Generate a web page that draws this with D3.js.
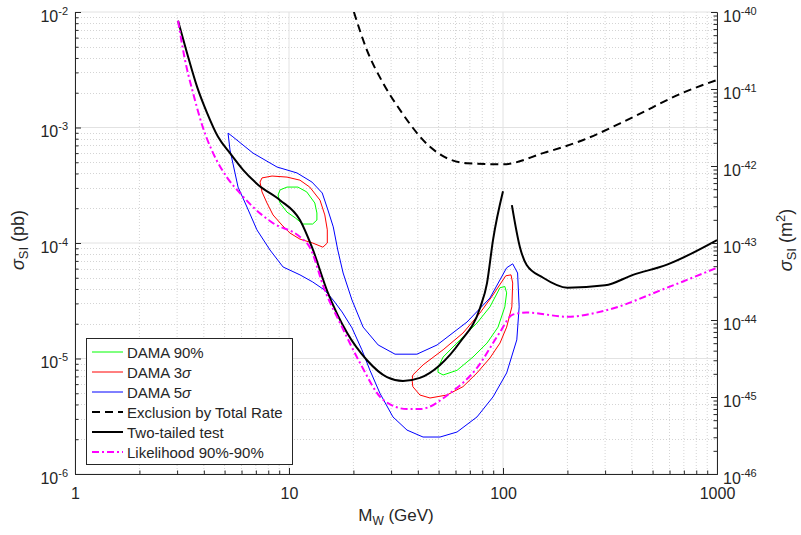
<!DOCTYPE html>
<html><head><meta charset="utf-8">
<script src="https://cdn.jsdelivr.net/npm/d3@7"></script>
<style>
body{margin:0;background:#fff}
svg{display:block}
text{font-family:"Liberation Sans",Arial,Helvetica,sans-serif;fill:#262626}
</style>
</head><body>
<svg id="chart" width="801" height="535"></svg>
<script>
// ---------- data (mass in GeV, sigma in pb) ----------
const massTicks = [1, 10, 100, 1000];
const massTickLabels = ["1", "10", "100", "1000"];
const sigmaExps = [-6, -5, -4, -3, -2];
const sigmaM2Exps = [-46, -45, -44, -43, -42, -41, -40];

const twoTailedLow = [[3.03,8.4e-3],[3.34,4.4e-3],[3.72,2.25e-3],[4.14,1.34e-3],[4.66,8.3e-4],[5.3,6.0e-4],[6.1,4.3e-4],[7.16,3.2e-4],[9.08,2.35e-4],[11.25,1.58e-4],[12.8,9.2e-5],[15.2,3.7e-5],[18.7,1.66e-5],[23.1,9.7e-6],[28.7,6.9e-6],[34.1,6.4e-6],[40.9,6.8e-6],[50.8,8.8e-6],[63,1.39e-5],[78.1,2.74e-5],[84.2,4.5e-5],[89.8,1.06e-4],[100,2.8e-4]];
const twoTailedHigh = [[110,2.13e-4],[120,9.2e-5],[129,6.45e-5],[154,5.0e-5],[200,4.1e-5],[300,4.3e-5],[405,5.3e-5],[584,6.5e-5],[1000,1.06e-4]];
const likelihood = [[3.03,8.4e-3],[3.27,3.8e-3],[3.56,2.0e-3],[3.96,1.0e-3],[4.42,6.0e-4],[5.13,3.7e-4],[5.9,2.7e-4],[6.79,2.05e-4],[8.4,1.49e-4],[11.25,1.13e-4],[12.5,9.2e-5],[14.7,3.9e-5],[17.7,1.87e-5],[21.5,9.1e-6],[27.5,4.4e-6],[35.6,3.65e-6],[40.9,3.65e-6],[56.5,5.0e-6],[75.6,8.3e-6],[96.8,1.69e-5],[111,2.4e-5],[129,2.5e-5],[200,2.3e-5],[300,2.6e-5],[584,4.1e-5],[1000,6.1e-5]];
const totalRate = [[20.1,1.0e-2],[23.1,4.7e-3],[27.5,2.43e-3],[33,1.42e-3],[45.6,6.8e-4],[67.9,4.9e-4],[100,4.8e-4],[154,6.0e-4],[237,7.8e-4],[405,1.23e-3],[693,2.0e-3],[1000,2.58e-3]];

const dama5sigma = [[5.19,8.95e-4],[5.47,8.3e-4],[6.79,6.0e-4],[8.79,4.55e-4],[10.9,4.04e-4],[12.8,3.37e-4],[14.3,2.71e-4],[15.2,1.93e-4],[16.1,1.38e-4],[16.9,8.7e-5],[17.9,5.5e-5],[19.7,3.2e-5],[22.2,1.87e-5],[26.1,1.31e-5],[31.3,1.09e-5],[39.6,1.09e-5],[49.2,1.31e-5],[67.9,2.07e-5],[86.9,3.34e-5],[104,6.1e-5],[111,6.6e-5],[117,5.5e-5],[119,2.8e-5],[116,1.45e-5],[104,7.5e-6],[89.8,4.65e-6],[75.6,3.12e-6],[61,2.31e-6],[50.8,2.09e-6],[42.3,2.09e-6],[35.6,2.4e-6],[30.6,3.12e-6],[26.6,5.0e-6],[23.9,7.9e-6],[21.9,1.19e-5],[19.7,1.84e-5],[17.7,2.53e-5],[16.1,3.2e-5],[14.7,3.9e-5],[12.9,4.6e-5],[11.25,5.3e-5],[9.38,6.2e-5],[8.15,8.7e-5],[7.08,1.3e-4],[6.36,2.05e-4],[5.78,3.05e-4],[5.3,6.4e-4]];
const dama3sigmaLow = [[7.48,3.66e-4],[8.33,3.8e-4],[9.79,3.72e-4],[11.25,3.5e-4],[12.5,3.05e-4],[13.96,2.35e-4],[14.7,1.75e-4],[15.1,1.3e-4],[15.1,1.0e-4],[14.4,9.2e-5],[12.9,1.0e-4],[11.25,1.08e-4],[10.1,1.22e-4],[9.27,1.43e-4],[8.42,1.75e-4],[7.89,2.22e-4],[7.48,2.77e-4],[7.32,3.37e-4]];
const dama3sigmaHigh = [[37.9,7.2e-6],[42.3,8.8e-6],[52.5,1.19e-5],[65,1.66e-5],[78.1,2.48e-5],[89.8,3.55e-5],[103,5.2e-5],[109,5.3e-5],[111,4.5e-5],[110,2.8e-5],[104,1.87e-5],[96.8,1.36e-5],[86.9,1.01e-5],[75.6,7.5e-6],[65,5.7e-6],[54.7,4.83e-6],[45.6,4.55e-6],[40.9,4.83e-6],[37.9,5.7e-6],[37.6,6.5e-6]];
const dama90Low = [[9.08,2.88e-4],[9.79,3.05e-4],[11.0,3.05e-4],[12.1,2.77e-4],[13.2,2.22e-4],[13.5,1.82e-4],[13.5,1.58e-4],[12.9,1.46e-4],[11.6,1.46e-4],[10.7,1.65e-4],[9.79,1.85e-4],[9.08,2.22e-4],[8.89,2.6e-4]];
const dama90High = [[49.7,8.3e-6],[52.5,1.03e-5],[63,1.45e-5],[75.6,2.03e-5],[86.9,2.8e-5],[96.8,4.1e-5],[102,4.2e-5],[104,3.7e-5],[102,2.8e-5],[94.8,1.87e-5],[84.2,1.36e-5],[72.4,1.03e-5],[61,7.9e-6],[52.5,7.2e-6],[49.7,7.6e-6]];

const legendLabels = ["DAMA 90%", "DAMA 3σ", "DAMA 5σ", "Exclusion by Total Rate", "Two-tailed test", "Likelihood 90%-90%"];

// ---------- layout ----------
const L = 75, R = 717, T = 12, B = 474;
const svg = d3.select("#chart");
svg.append("rect").attr("width", 801).attr("height", 535).attr("fill", "#fff");

const x = d3.scaleLog().domain([1, 1000]).range([L, R]);
const y = d3.scaleLog().domain([1e-6, 1e-2]).range([B, T]);
const yR = d3.scaleLog().domain([1e-46, 1e-40]).range([B, T]);

function minors(lo, hi) {
  const out = [];
  for (let e = lo; e < hi; e++) for (let k = 2; k <= 9; k++) out.push(k * Math.pow(10, e));
  return out;
}
const xMinor = minors(0, 3);
const yMinor = minors(-6, -2);
const rMinor = minors(-46, -40);
const yMajor = sigmaExps.map(e => Math.pow(10, e));
const rMajor = sigmaM2Exps.map(e => Math.pow(10, e));

// grid
const grid = svg.append("g");
grid.selectAll(".gxm").data(xMinor).join("line")
  .attr("x1", d => x(d)).attr("x2", d => x(d)).attr("y1", T).attr("y2", B)
  .attr("stroke", "#d4d4d4").attr("stroke-width", 1).attr("stroke-dasharray", "1,2");
grid.selectAll(".gym").data(yMinor).join("line")
  .attr("y1", d => Math.round(y(d)) + 0.5).attr("y2", d => Math.round(y(d)) + 0.5).attr("x1", L).attr("x2", R)
  .attr("stroke", "#d4d4d4").attr("stroke-width", 1).attr("stroke-dasharray", "1,2");
grid.selectAll(".gx").data(massTicks).join("line")
  .attr("x1", d => x(d)).attr("x2", d => x(d)).attr("y1", T).attr("y2", B)
  .attr("stroke", "#e2e2e2").attr("stroke-width", 1);
grid.selectAll(".gy").data(yMajor).join("line")
  .attr("y1", d => y(d)).attr("y2", d => y(d)).attr("x1", L).attr("x2", R)
  .attr("stroke", "#e2e2e2").attr("stroke-width", 1);

// curves
svg.append("clipPath").attr("id", "clip").append("rect")
  .attr("x", L).attr("y", T).attr("width", R - L).attr("height", B - T);
const plot = svg.append("g").attr("clip-path", "url(#clip)");
const closed = d3.line().x(d => x(d[0])).y(d => y(d[1])).curve(d3.curveLinearClosed);
const smooth = d3.line().x(d => x(d[0])).y(d => y(d[1])).curve(d3.curveMonotoneX);

function contour(data, color) {
  plot.append("path").attr("d", closed(data)).attr("fill", "none")
    .attr("stroke", color).attr("stroke-width", 1).attr("stroke-linejoin", "round");
}
contour(dama90Low, "#00ff00");
contour(dama90High, "#00ff00");
contour(dama3sigmaLow, "#ff0000");
contour(dama3sigmaHigh, "#ff0000");
contour(dama5sigma, "#0000ff");

plot.append("path").attr("d", smooth(totalRate)).attr("fill", "none")
  .attr("stroke", "#000").attr("stroke-width", 2).attr("stroke-dasharray", "8,5");
plot.append("path").attr("d", smooth(twoTailedLow)).attr("fill", "none")
  .attr("stroke", "#000").attr("stroke-width", 2).attr("stroke-linejoin", "round");
plot.append("path").attr("d", smooth(twoTailedHigh)).attr("fill", "none")
  .attr("stroke", "#000").attr("stroke-width", 2).attr("stroke-linejoin", "round");
plot.append("path").attr("d", smooth(likelihood)).attr("fill", "none")
  .attr("stroke", "#ff00ff").attr("stroke-width", 2).attr("stroke-dasharray", "7,3,2,3");

// axes
const axCol = "#262626";
function styleAxis(g) {
  g.select(".domain").attr("stroke", axCol).attr("stroke-width", 1);
  g.selectAll(".tick line").attr("stroke", axCol);
}
function powLabel(sel, anchor) {
  sel.selectAll(".tick text").each(function(d) {
    const t = d3.select(this);
    const e = Math.round(Math.log10(d));
    t.text(null).attr("dy", null).attr("text-anchor", anchor).attr("font-size", 16).attr("fill", axCol);
    t.append("tspan").text("10");
    t.append("tspan").attr("dy", -7).attr("font-size", 11).text(String(e));
  });
}

const gL = svg.append("g").attr("transform", `translate(${L},0)`)
  .call(d3.axisLeft(y).tickValues(yMajor).tickSizeInner(-6).tickSizeOuter(0).tickPadding(7));
styleAxis(gL);
powLabel(gL, "end");
gL.selectAll(".tick text").attr("y", 9);
const gLm = svg.append("g").attr("transform", `translate(${L},0)`)
  .call(d3.axisLeft(y).tickValues(yMinor).tickSizeInner(-3.5).tickSizeOuter(0).tickFormat(""));
styleAxis(gLm);

const gR = svg.append("g").attr("transform", `translate(${R},0)`)
  .call(d3.axisRight(yR).tickValues(rMajor).tickSizeInner(-6).tickSizeOuter(0).tickPadding(6));
styleAxis(gR);
powLabel(gR, "start");
gR.selectAll(".tick text").attr("y", 9);
const gRm = svg.append("g").attr("transform", `translate(${R},0)`)
  .call(d3.axisRight(yR).tickValues(rMinor).tickSizeInner(-3.5).tickSizeOuter(0).tickFormat(""));
styleAxis(gRm);

const gB = svg.append("g").attr("transform", `translate(0,${B})`)
  .call(d3.axisBottom(x).tickValues(massTicks).tickSizeInner(-6).tickSizeOuter(0).tickPadding(14)
    .tickFormat((d, i) => massTickLabels[i]));
styleAxis(gB);
gB.selectAll(".tick text").attr("font-size", 16).attr("fill", axCol);
const gBm = svg.append("g").attr("transform", `translate(0,${B})`)
  .call(d3.axisBottom(x).tickValues(xMinor).tickSizeInner(-3.5).tickSizeOuter(0).tickFormat(""));
styleAxis(gBm);

// axis labels
const xl = svg.append("text").attr("x", 396).attr("y", 521).attr("text-anchor", "middle").attr("font-size", 17);
xl.append("tspan").text("M");
xl.append("tspan").attr("font-size", 12).attr("dy", 4).text("W");
xl.append("tspan").attr("dy", -4).text(" (GeV)");

const ylab = svg.append("text").attr("transform", "translate(24,240) rotate(-90)").attr("text-anchor", "middle").attr("font-size", 18);
ylab.append("tspan").attr("font-style", "italic").text("σ");
ylab.append("tspan").attr("font-size", 13).attr("dy", 4).text("SI");
ylab.append("tspan").attr("dy", -4).text(" (pb)");

const yrlab = svg.append("text").attr("transform", "translate(792,240) rotate(-90)").attr("text-anchor", "middle").attr("font-size", 18);
yrlab.append("tspan").attr("font-style", "italic").text("σ");
yrlab.append("tspan").attr("font-size", 13).attr("dy", 4).text("SI");
yrlab.append("tspan").attr("dy", -4).text(" (m");
yrlab.append("tspan").attr("font-size", 13).attr("dy", -7).text("2");
yrlab.append("tspan").attr("dy", 7).text(")");

// legend
const lg = svg.append("g");
lg.append("rect").attr("x", 86.5).attr("y", 338.5).attr("width", 206).attr("height", 126)
  .attr("fill", "#fff").attr("stroke", axCol).attr("stroke-width", 1);
const legStyles = [
  {c: "#00ff00", w: 1, dash: null},
  {c: "#ff0000", w: 1, dash: null},
  {c: "#0000ff", w: 1, dash: null},
  {c: "#000", w: 2, dash: "8,5"},
  {c: "#000", w: 2, dash: null},
  {c: "#ff00ff", w: 2, dash: "7,3,2,3"}
];
const legY = d3.scaleLinear().domain([0, 5]).range([352, 452]);
legendLabels.forEach((lab, i) => {
  const yy = legY(i);
  const s = legStyles[i];
  lg.append("line").attr("x1", 92).attr("x2", 123).attr("y1", yy).attr("y2", yy)
    .attr("stroke", s.c).attr("stroke-width", s.w).attr("stroke-dasharray", s.dash);
  const t = lg.append("text").attr("x", 127).attr("y", yy + 5.5).attr("font-size", 15).attr("fill", "#000");
  const m = lab.match(/^(.*)σ$/);
  if (m) {
    t.append("tspan").text(m[1]);
    t.append("tspan").attr("font-style", "italic").text("σ");
  } else t.text(lab);
});
</script>
</body></html>
